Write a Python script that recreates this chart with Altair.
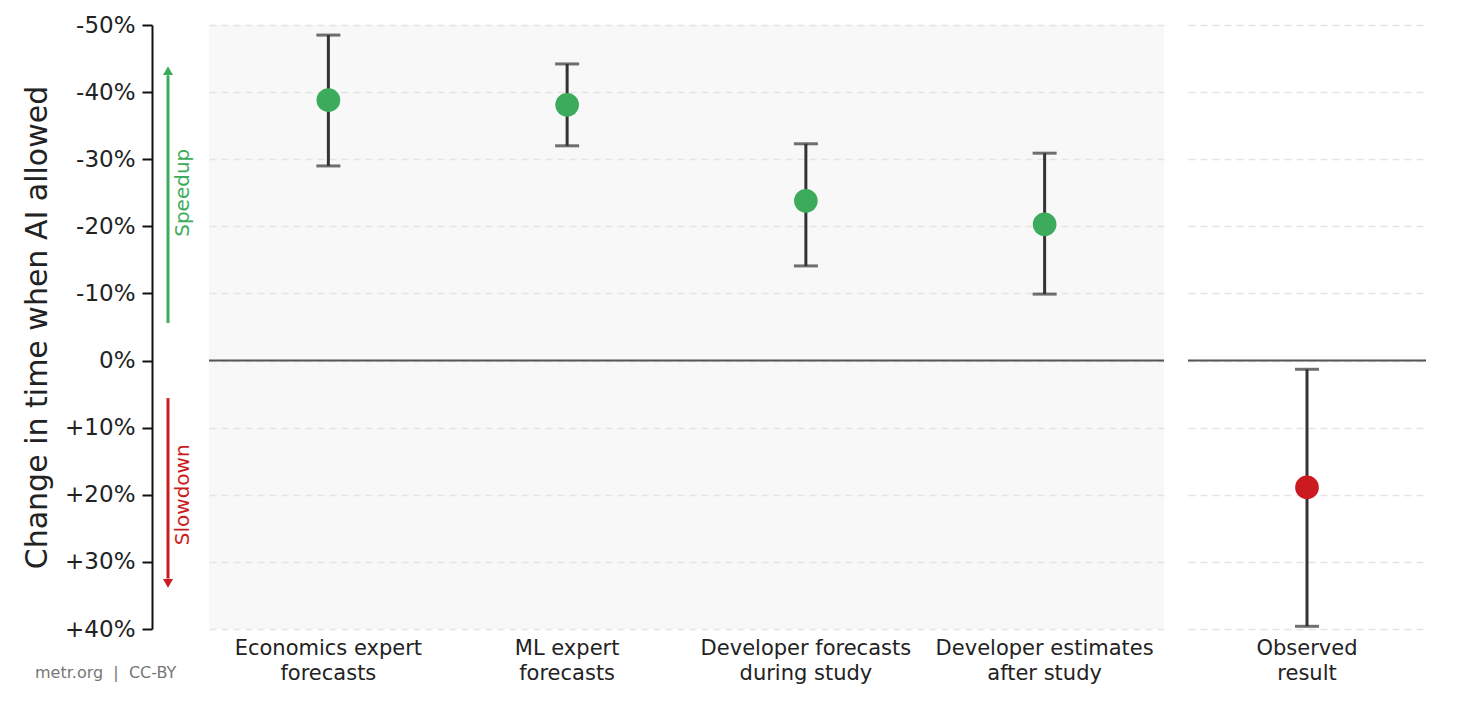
import altair as alt
import pandas as pd

FONT = "DejaVu Sans"
GREEN = "#3dab5c"
RED = "#cc1b20"
BAR = "#333333"

# ---- data ----
forecast_labels = ["Economics expert|forecasts", "ML expert|forecasts",
                   "Developer forecasts|during study", "Developer estimates|after study"]
forecast_est = [-38.8, -38.1, -23.8, -20.3]
forecast_top = [-48.5, -44.2, -32.3, -30.9]
forecast_bottom = [-29.0, -32.0, -14.1, -9.9]

observed_labels = ["Observed|result"]
observed_est = [18.9]
observed_top = [1.3]
observed_bottom = [39.6]

y_ticks = [-50, -40, -30, -20, -10, 0, 10, 20, 30, 40]
zero_line = [0]

# annotation arrows (data units on y)
speed_arrow = {"start": -5.6, "end": -42.5, "head": -43.2, "label_y": -25}
slow_arrow = {"start": 5.6, "end": 32.5, "head": 33.2, "label_y": 20}

left_df = pd.DataFrame({"cat": forecast_labels, "est": forecast_est,
                        "lo": forecast_top, "hi": forecast_bottom})
right_df = pd.DataFrame({"cat": observed_labels, "est": observed_est,
                         "lo": observed_top, "hi": observed_bottom})
zero_df = pd.DataFrame({"y": zero_line})

W_LEFT, W_RIGHT, H = 955, 238, 604

yscale = alt.Scale(domain=[-50, 40], reverse=True, nice=False, zero=False)

label_expr = "datum.value > 0 ? '+' + datum.value + '%' : datum.value + '%'"

y_axis_left = alt.Axis(values=y_ticks, labelExpr=label_expr, title="Change in time when AI allowed",
                       offset=57, domain=True, domainColor="#111111", domainWidth=2,
                       ticks=True, tickColor="#111111", tickWidth=2, tickSize=10,
                       labelFont=FONT, labelFontSize=23, labelColor="#222222", labelPadding=7,
                       titleFont=FONT, titleFontSize=30, titleFontWeight="normal", titleColor="#222222",
                       titlePadding=12,
                       grid=True, gridColor="#e4e4e4", gridDash=[7, 5], gridWidth=1.5)
y_axis_right = alt.Axis(values=y_ticks, title=None, domain=False, ticks=False, labels=False,
                        grid=True, gridColor="#e4e4e4", gridDash=[7, 5], gridWidth=1.5)

x_axis = alt.Axis(title=None, labelAngle=0, domain=False, ticks=False, labelLimit=400,
                  labelExpr="split(datum.label, '|')", labelFont=FONT, labelFontSize=21,
                  labelColor="#222222", labelPadding=8, labelLineHeight=25)


def panel(df, width, yaxis, color, extra=None):
    xs = alt.X("cat:N", sort=list(df["cat"]), axis=x_axis,
               scale=alt.Scale(paddingInner=0, paddingOuter=0))
    base = alt.Chart(df)
    zero = alt.Chart(zero_df).mark_rule(color="#555555", strokeWidth=2).encode(
        y=alt.Y("y:Q", scale=yscale, axis=yaxis))
    bars = base.mark_rule(color=BAR, strokeWidth=3).encode(
        x=xs, y=alt.Y("lo:Q", scale=yscale), y2="hi:Q")
    cap_top = base.mark_tick(color=BAR, thickness=3, size=24).encode(
        x=xs, y=alt.Y("lo:Q", scale=yscale))
    cap_bot = base.mark_tick(color=BAR, thickness=3, size=24).encode(
        x=xs, y=alt.Y("hi:Q", scale=yscale))
    pts = base.mark_circle(color=color, opacity=1, size=560).encode(
        x=xs, y=alt.Y("est:Q", scale=yscale))
    layers = [zero, bars, cap_top, cap_bot, pts]
    if extra:
        layers += extra
    return alt.layer(*layers)


# annotations for left panel
arrow_df = pd.DataFrame([
    {"start": speed_arrow["start"], "end": speed_arrow["end"], "head": speed_arrow["head"],
     "ly": speed_arrow["label_y"], "txt": "Speedup", "kind": "speed"},
    {"start": slow_arrow["start"], "end": slow_arrow["end"], "head": slow_arrow["head"],
     "ly": slow_arrow["label_y"], "txt": "Slowdown", "kind": "slow"},
])
col = alt.Color("kind:N", scale=alt.Scale(domain=["speed", "slow"], range=[GREEN, RED]), legend=None)
shape = alt.Shape("kind:N", scale=alt.Scale(domain=["speed", "slow"], range=["triangle-up", "triangle-down"]),
                  legend=None)
arrow_lines = alt.Chart(arrow_df).mark_rule(strokeWidth=3).encode(
    x=alt.value(-41), y=alt.Y("start:Q", scale=yscale), y2="end:Q", color=col)
arrow_heads = alt.Chart(arrow_df).mark_point(filled=True, opacity=1, size=100).encode(
    x=alt.value(-41), y=alt.Y("head:Q", scale=yscale), color=col, shape=shape)
arrow_text = alt.Chart(arrow_df).mark_text(angle=270, font=FONT, fontSize=20, baseline="middle",
                                           align="center").encode(
    x=alt.value(-26), y=alt.Y("ly:Q", scale=yscale), text="txt:N", color=col)
footer = alt.Chart(pd.DataFrame({"t": ["metr.org\u00a0\u00a0|\u00a0\u00a0CC-BY"]})).mark_text(
    font=FONT, fontSize=16, color="#777777", align="left", baseline="middle").encode(
    x=alt.value(-174), y=alt.value(H + 44), text="t:N")

left = panel(left_df, W_LEFT, y_axis_left, GREEN,
             extra=[arrow_lines, arrow_heads, arrow_text, footer]).properties(
    width=W_LEFT, height=H, view=alt.ViewBackground(fill="#f8f8f8", stroke=None))
right = panel(right_df, W_RIGHT, y_axis_right, RED).properties(
    width=W_RIGHT, height=H, view=alt.ViewBackground(fill="white", stroke=None))

chart = alt.hconcat(left, right, spacing=22).resolve_scale(color="independent", shape="independent").properties(
    padding={"left": 14, "top": 6, "right": 5, "bottom": 5}, background="white"
).configure_view(stroke=None)

chart.save("out.html", embed_options={"renderer": "svg", "actions": False})
